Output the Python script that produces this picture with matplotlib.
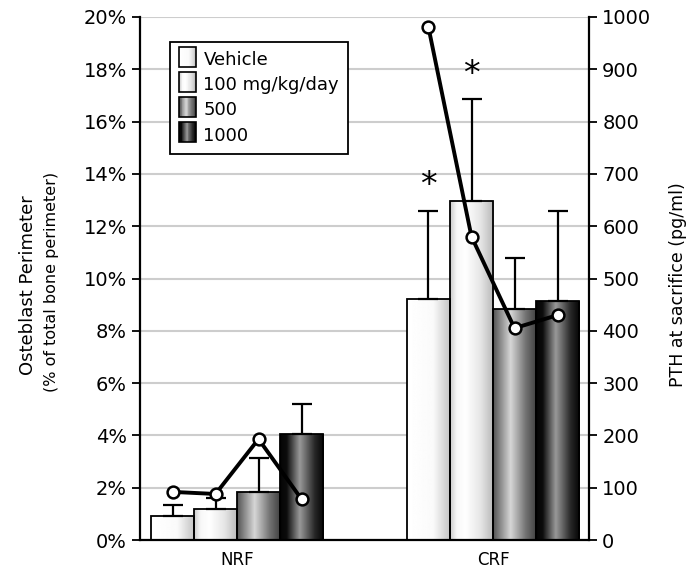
import numpy as np
import matplotlib
matplotlib.use("Agg")
import matplotlib.pyplot as plt
from matplotlib.patches import Rectangle
from matplotlib.legend_handler import HandlerBase

groups = ["NRF", "CRF"]
doses = ["Vehicle", "100 mg/kg/day", "500", "1000"]

# osteoblast perimeter (%) per dose, [NRF, CRF]
ob_mean = [[0.92, 9.2], [1.2, 12.95], [1.85, 8.85], [4.05, 9.15]]
ob_err = [[0.42, 3.4], [0.4, 3.9], [1.3, 1.95], [1.15, 3.45]]

# PTH at sacrifice (pg/ml)
pth_nrf = [92, 88, 193, 78]
pth_crf = [980, 580, 405, 430]

stars = [(1, 0), (1, 1)]  # (group, dose) marked significant

# horizontal shading of each bar: (position, grey level)
shades = [
    ([0, 0.6, 1], [1.0, 0.98, 0.76]),
    ([0, 0.15, 0.35, 0.7, 1], [0.8, 0.97, 1.0, 0.9, 0.72]),
    ([0, 0.4, 0.75, 1], [0.33, 0.84, 0.45, 0.25]),
    ([0, 0.15, 0.45, 0.8, 1], [0.02, 0.05, 0.6, 0.15, 0.02]),
]


def shade_row(i, n=64):
    t = np.linspace(0, 1, n)
    return np.interp(t, *shades[i])


class GradHandler(HandlerBase):
    def __init__(self, idx):
        super().__init__()
        self.idx = idx

    def create_artists(self, legend, orig, x0, y0, w, h, fs, trans):
        arts = []
        row = shade_row(self.idx, 20)
        side = w
        step = side / len(row)
        for k, g in enumerate(row):
            arts.append(Rectangle((x0 + k * step, y0 - 0.2 * h), step * 1.05, h * 1.35,
                                  facecolor=(g, g, g), edgecolor="none", transform=trans))
        arts.append(Rectangle((x0, y0 - 0.2 * h), side, h * 1.35, facecolor="none",
                              edgecolor="black", lw=1.2, transform=trans))
        return arts


fig = plt.figure(figsize=(6.91, 5.74), dpi=100)
ax = fig.add_axes([140 / 691, 34 / 574, 449 / 691, 523 / 574])

width = 0.168
x = np.arange(len(groups))
for i in range(len(doses)):
    xs = x + (i - 1.5) * width
    bars = ax.bar(xs, ob_mean[i], width, facecolor="none", edgecolor="black",
                  lw=1.3, zorder=3)
    for b in bars:
        bx, bw, bh = b.get_x(), b.get_width(), b.get_height()
        im = ax.imshow(shade_row(i)[None, :], cmap="gray", vmin=0, vmax=1,
                       extent=[bx, bx + bw, 0, bh], aspect="auto", zorder=2,
                       interpolation="bilinear")
        im.set_clip_path(b)
    ax.errorbar(xs, ob_mean[i], yerr=[np.zeros(2), ob_err[i]], fmt="none",
                ecolor="black", elinewidth=1.6, capsize=7, capthick=1.6, zorder=4)

for g, d in stars:
    xs = x[g] + (d - 1.5) * width
    ax.text(xs, ob_mean[d][g] + ob_err[d][g] + 0.95, "*", ha="center", va="center",
            fontsize=24, zorder=5)

ax.set_xlim(-0.379, 1.375)
ax.set_ylim(0, 20)
ax.set_yticks(range(0, 21, 2))
ax.set_yticklabels([f"{v}%" for v in range(0, 21, 2)], fontsize=14)
ax.set_xticks(x)
ax.set_xticklabels(groups, fontsize=12)
ax.tick_params(axis="x", length=0, pad=8)
ax.tick_params(axis="y", length=6, width=1.3, direction="out")
ax.yaxis.grid(True, color="#cdcdcd", lw=1.5)
ax.set_axisbelow(True)
ax.spines["top"].set_visible(False)
ax.spines["right"].set_visible(False)
for s in ["left", "bottom"]:
    ax.spines[s].set_linewidth(1.6)

ax2 = ax.twinx()
ax2.set_ylim(0, 1000)
ax2.set_yticks(range(0, 1001, 100))
ax2.tick_params(axis="y", labelsize=14, length=6, width=1.3)
ax2.spines["top"].set_visible(False)
ax2.spines["left"].set_visible(False)
ax2.spines["bottom"].set_visible(False)
ax2.spines["right"].set_linewidth(1.6)
offs = (np.arange(len(doses)) - 1.5) * width
for gi, vals in enumerate([pth_nrf, pth_crf]):
    ax2.plot(x[gi] + offs, vals, color="black", lw=2.8, marker="o", ms=8.5,
             mfc="white", mec="black", mew=1.8, zorder=6)

fig.text(28 / 691, 1 - 285 / 574, "Osteblast Perimeter", rotation=90,
         ha="center", va="center", fontsize=13)
fig.text(52 / 691, 1 - 282 / 574, "(% of total bone perimeter)", rotation=90,
         ha="center", va="center", fontsize=11.5)
fig.text(678 / 691, 1 - 285 / 574, "PTH at sacrifice (pg/ml)", rotation=90,
         ha="center", va="center", fontsize=12.5)

proxies = [Rectangle((0, 0), 1, 1) for _ in doses]
leg = ax2.legend(proxies, doses, handler_map={p: GradHandler(i) for i, p in enumerate(proxies)},
                 loc="upper left", bbox_to_anchor=(170 / 691, 1 - 42 / 574),
                 bbox_transform=fig.transFigure, borderaxespad=0, fontsize=13,
                 fancybox=False, framealpha=1, edgecolor="black",
                 handlelength=0.95, handleheight=0.9, handletextpad=0.4,
                 labelspacing=0.4, borderpad=0.5)
leg.get_frame().set_linewidth(1.3)

fig.savefig("out.png", dpi=100)
